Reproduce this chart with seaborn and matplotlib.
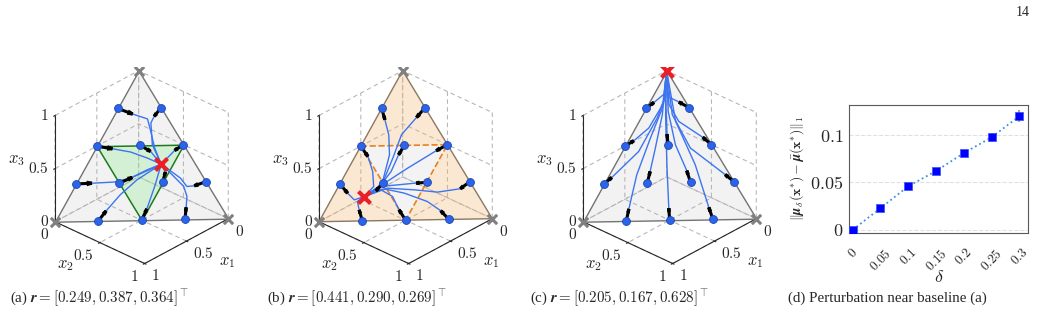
import numpy as np
import pandas as pd
import matplotlib
matplotlib.use("Agg")
import matplotlib.pyplot as plt
import seaborn as sns
from mpl_toolkits.mplot3d import proj3d
from mpl_toolkits.mplot3d.art3d import Poly3DCollection

sns.set_style("white")
plt.rcParams["font.family"] = ["Liberation Serif", "DejaVu Serif"]
plt.rcParams["mathtext.fontset"] = "cm"

# simplex corners and edge midpoints (x1, x2, x3)
corners = [(1, 0, 0), (0, 1, 0), (0, 0, 1)]
mids = [(0.5, 0, 0.5), (0, 0.5, 0.5), (0.5, 0.5, 0)]

# starting points of the 12 runs
starts = [(0.25, 0, 0.75), (0, 0.25, 0.75), (0.5, 0, 0.5), (0.25, 0.25, 0.5),
          (0, 0.5, 0.5), (0.75, 0, 0.25), (0.5, 0.25, 0.25), (0.25, 0.5, 0.25),
          (0, 0.75, 0.25), (0.75, 0.25, 0), (0.5, 0.5, 0), (0.25, 0.75, 0)]

# waypoints (first one = tip of the black arrow)
paths_a = [
    [(0.184, 0.105, 0.711), (0.116, 0.208, 0.676), (0.141, 0.267, 0.592), (0.176, 0.343, 0.481)],
    [(0.069, 0.238, 0.693), (0.111, 0.240, 0.649), (0.178, 0.319, 0.503)],
    [(0.420, 0.099, 0.481), (0.327, 0.216, 0.457), (0.253, 0.332, 0.415)],
    [(0.211, 0.330, 0.459)],
    [(0.070, 0.467, 0.463), (0.124, 0.453, 0.423)],
    [(0.656, 0.091, 0.253), (0.528, 0.214, 0.258), (0.418, 0.299, 0.283), (0.294, 0.370, 0.336)],
    [(0.406, 0.307, 0.287), (0.297, 0.373, 0.330)],
    [(0.198, 0.483, 0.319)],
    [(0.080, 0.696, 0.224), (0.125, 0.655, 0.220), (0.133, 0.590, 0.277), (0.165, 0.508, 0.327)],
    [(0.671, 0.263, 0.066), (0.535, 0.293, 0.172), (0.386, 0.343, 0.271)],
    [(0.431, 0.494, 0.075), (0.300, 0.465, 0.235)],
    [(0.202, 0.718, 0.080), (0.159, 0.687, 0.154), (0.143, 0.636, 0.221), (0.165, 0.546, 0.289)],
]
paths_b = [
    [(0.271, 0.055, 0.674), (0.301, 0.126, 0.573), (0.366, 0.195, 0.439), (0.498, 0.241, 0.261), (0.577, 0.223, 0.200)],
    [(0.082, 0.232, 0.686), (0.228, 0.200, 0.572), (0.358, 0.225, 0.417), (0.500, 0.245, 0.255), (0.577, 0.223, 0.200)],
    [(0.495, 0.075, 0.430), (0.520, 0.151, 0.329), (0.566, 0.205, 0.229)],
    [(0.314, 0.248, 0.438), (0.415, 0.258, 0.327), (0.519, 0.242, 0.239)],
    [(0.085, 0.454, 0.461), (0.308, 0.344, 0.348), (0.534, 0.238, 0.228)],
    [(0.738, 0.075, 0.187), (0.723, 0.135, 0.142)],
    [(0.568, 0.232, 0.200)],
    [(0.312, 0.441, 0.247), (0.424, 0.339, 0.237), (0.534, 0.238, 0.228)],
    [(0.079, 0.717, 0.204), (0.221, 0.595, 0.184), (0.346, 0.452, 0.202), (0.492, 0.291, 0.216)],
    [(0.730, 0.196, 0.074), (0.711, 0.159, 0.130)],
    [(0.502, 0.428, 0.070), (0.493, 0.347, 0.160), (0.536, 0.258, 0.206)],
    [(0.267, 0.674, 0.059), (0.311, 0.567, 0.122), (0.414, 0.405, 0.181), (0.514, 0.274, 0.212)],
]
paths_c = [
    [(0.182, 0.029, 0.789), (0.095, 0.061, 0.844)],
    [(0.038, 0.173, 0.789), (0.084, 0.088, 0.828)],
    [(0.430, 0.035, 0.535), (0.301, 0.081, 0.618), (0.163, 0.086, 0.751), (0.103, 0.079, 0.818)],
    [(0.217, 0.207, 0.576), (0.154, 0.140, 0.706), (0.103, 0.079, 0.818)],
    [(0.024, 0.426, 0.550), (0.106, 0.235, 0.659), (0.104, 0.124, 0.772)],
    [(0.683, 0.025, 0.292), (0.439, 0.098, 0.463), (0.218, 0.098, 0.684), (0.115, 0.079, 0.806)],
    [(0.443, 0.229, 0.328), (0.332, 0.184, 0.484), (0.177, 0.117, 0.706)],
    [(0.231, 0.440, 0.329), (0.206, 0.290, 0.504), (0.132, 0.141, 0.727)],
    [(0.025, 0.677, 0.298), (0.132, 0.388, 0.480), (0.120, 0.175, 0.705)],
    [(0.694, 0.226, 0.080), (0.531, 0.162, 0.307), (0.326, 0.123, 0.551), (0.153, 0.096, 0.751)],
    [(0.463, 0.456, 0.081), (0.324, 0.305, 0.371), (0.158, 0.136, 0.706)],
    [(0.232, 0.687, 0.081), (0.162, 0.470, 0.368), (0.124, 0.216, 0.660)],
]
stars = [(0.195, 0.433, 0.372), (0.655, 0.182, 0.163), (0.0, 0.0, 1.0)]
captions = [r"(a) $\mathbfit{r} = [0.249, 0.387, 0.364]^{\top}$",
            r"(b) $\mathbfit{r} = [0.441, 0.290, 0.269]^{\top}$",
            r"(c) $\mathbfit{r} = [0.205, 0.167, 0.628]^{\top}$",
            "(d) Perturbation near baseline (a)"]
tick_vals = [0, 0.5, 1]
tick_txt = ["$0$", "$0.5$", "$1$"]

# panel (d)
delta = [0, 0.05, 0.1, 0.15, 0.2, 0.25, 0.3]
delta_txt = ["$0$", "$0.05$", "$0.1$", "$0.15$", "$0.2$", "$0.25$", "$0.3$"]
gap = [0.0, 0.0228, 0.046, 0.062, 0.081, 0.0976, 0.120]
gap_err = [0.0005, 0.0015, 0.0015, 0.0015, 0.002, 0.005, 0.006]

W, H = 1041, 321
fig = plt.figure(figsize=(W / 100, H / 100), dpi=100)


def put(ax, x, y, z, s, **kw):
    # text at a 3D spot, stored in the flat data coords of the panel
    xp, yp, _ = proj3d.proj_transform(x, y, z, ax.get_proj())
    ax.text2D(xp, yp, s, transform=ax.transData, **kw)


lefts = [55, 319, 583]   # pixel x of corner (1,0,0) in each panel
axes3d = []
for k in range(3):
    ax = fig.add_axes([(lefts[k] - 24) / W, 43 / H, 215 / W, 215 / H],
                      projection="3d", computed_zorder=False)
    ax.set_proj_type("ortho")
    ax.view_init(elev=30, azim=43)
    ax.set_box_aspect((1, 1, 1))
    ax.set_xlim(0, 1)
    ax.set_ylim(0, 1)
    ax.set_zlim(0, 1)
    for axis in (ax.xaxis, ax.yaxis, ax.zaxis):
        axis.set_pane_color((1, 1, 1, 0))
        axis._axinfo["grid"].update(color="0.72", linestyle=(0, (4, 3)), linewidth=0.8)
        axis.set_ticks(tick_vals)
        axis.set_ticklabels(["", "", ""])

    # tick labels and axis names, placed like the reference
    for t, s in zip(tick_vals, tick_txt):
        put(ax, 1.192, t + 0.112, 0, s, ha="right", va="center", fontsize=11)
        put(ax, t + 0.111, 1.176, 0, s, ha="left", va="center", fontsize=11)
        put(ax, 1.033, -0.036, t, s, ha="right", va="center", fontsize=11)
    put(ax, 0.52, 1.47, 0, "$x_1$", ha="center", va="center", fontsize=12)
    put(ax, 1.46, 0.54, 0, "$x_2$", ha="center", va="center", fontsize=12)
    put(ax, 1.466, 0, 0.774, "$x_3$", ha="center", va="center", fontsize=12)

    if k == 1:
        corner_tris = [[corners[0], mids[0], mids[2]],
                       [corners[1], mids[1], mids[2]],
                       [corners[2], mids[0], mids[1]]]
        ax.add_collection3d(Poly3DCollection(corner_tris, facecolor=(0.96, 0.70, 0.42, 0.3),
                                             edgecolor="none", zorder=1))
        ax.add_collection3d(Poly3DCollection([mids], facecolor=(0.7, 0.7, 0.7, 0.15),
                                             edgecolor="none", zorder=1))
        loop = mids + [mids[0]]
        ax.plot(*zip(*loop), ls="--", color="#e8801e", lw=1.2, zorder=2)
        loop = corners + [corners[0]]
        ax.plot(*zip(*loop), color="#8a7862", lw=1.0, zorder=2)
    else:
        ax.add_collection3d(Poly3DCollection([corners], facecolor=(0.7, 0.7, 0.7, 0.17),
                                             edgecolor="0.45", linewidth=1.0, zorder=1))
        if k == 0:
            ax.add_collection3d(Poly3DCollection([mids], facecolor=(0.56, 0.93, 0.56, 0.3),
                                                 edgecolor="#1e7a1e", linewidth=1.1, zorder=2))

    paths = [paths_a, paths_b, paths_c][k]
    star = stars[k]
    for s, p in zip(starts, paths):
        pts = [s] + p + [star]
        ax.plot(*zip(*pts), color="#3d74f0", lw=1.0, zorder=3)
    sx, sy, sz = np.array(starts).T
    tx, ty, tz = np.array([p[0] for p in paths]).T
    ax.quiver(sx, sy, sz, tx - sx, ty - sy, tz - sz, color="k", linewidth=2.2,
              arrow_length_ratio=0.35, zorder=4)
    ax.scatter(sx, sy, sz, s=32, c="#2b63ea", edgecolors="#1c45b0", linewidths=0.6,
               depthshade=False, zorder=5)
    cx, cy, cz = np.array(corners).T
    ax.scatter(cx, cy, cz, marker="x", s=45, c="0.5", linewidths=2.2, depthshade=False, zorder=6)
    ax.scatter([star[0]], [star[1]], [star[2]], marker="x", s=75, c="#ea1f28", linewidths=3,
               depthshade=False, zorder=7)
    axes3d.append(ax)

# panel (d)
axd = fig.add_axes([849.3 / W, (H - 232.7) / H, 178.7 / W, 128 / H])
axd.errorbar(delta, gap, yerr=gap_err, fmt="none", ecolor="0.65", elinewidth=1.5, capsize=0)
sns.lineplot(x=delta, y=gap, ax=axd, color="#3f8fe0", linestyle=":", linewidth=1.3)
sns.scatterplot(x=delta, y=gap, ax=axd, marker="s", color="#0000ff", s=36,
                edgecolor="#3050ff", linewidth=0.5, zorder=3)
axd.set_xlim(-0.006, 0.3155)
axd.set_ylim(-0.003, 0.132)
axd.set_xticks(delta)
axd.set_xticklabels(delta_txt, rotation=45, fontsize=9.5)
axd.set_yticks([0, 0.05, 0.1])
axd.set_yticklabels(["$0$", "$0.05$", "$0.1$"], fontsize=13)
axd.tick_params(axis="y", pad=1)
axd.tick_params(axis="x", pad=6)
axd.yaxis.grid(True, ls="--", color="0.88", lw=0.8)
for sp in axd.spines.values():
    sp.set_color("0.35")
    sp.set_linewidth(0.8)
axd.set_xlabel(r"$\delta$", fontsize=13, labelpad=-3)
axd.set_ylabel(r"$\|\mathbfit{\mu}_{\delta}(\mathbf{x}^{*})-\bar{\mathbfit{\mu}}(\mathbf{x}^{*})\|_{1}$",
               fontsize=10, labelpad=3)

# line the 3D panels up with the reference
fig.canvas.draw()
for ax, lx in zip(axes3d, lefts):
    M = ax.get_proj()
    xs, ys, _ = proj3d.proj_transform(np.array([1.0, 0.0]), np.array([0.0, 1.0]),
                                      np.array([0.0, 0.0]), M)
    pts = ax.transData.transform(np.column_stack([xs, ys]))
    bb = ax.get_position()
    x0, y0, w = bb.x0 * W, bb.y0 * H, bb.width * W
    a = (pts - [x0, y0]) / w
    w_new = 173.3 / (a[1, 0] - a[0, 0])
    x0_new = lx - w_new * a[0, 0]
    y0_new = (H - 221.7) - w_new * a[0, 1]
    ax.set_position([x0_new / W, y0_new / H, w_new / W, w_new / H])

cap_x = [10, 267, 530, 788]
for x, c in zip(cap_x, captions):
    fig.text(x / W, (H - 298) / H, c, fontsize=10.8, ha="left", va="center")
fig.text(1023 / W, (H - 13) / H, "14", fontsize=10, ha="center", va="center")

fig.savefig("out.png", dpi=100)
